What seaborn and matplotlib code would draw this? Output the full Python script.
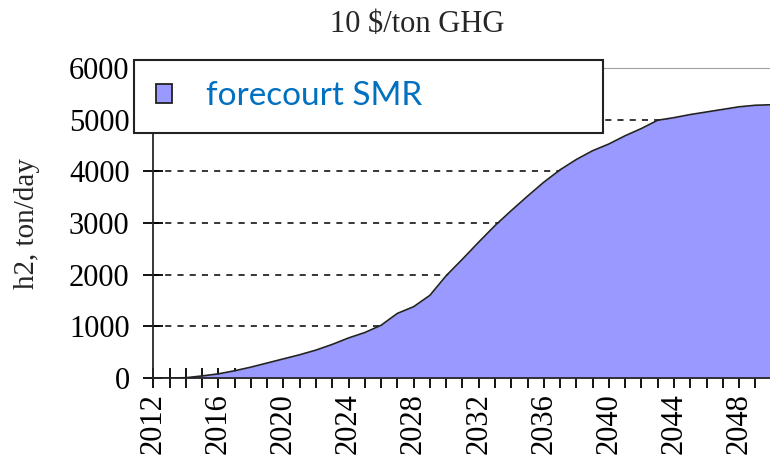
import numpy as np
import pandas as pd
import matplotlib
matplotlib.use("Agg")
import matplotlib.pyplot as plt
import seaborn as sns
from matplotlib.ticker import MultipleLocator
from matplotlib.patches import Patch

# -------------------------------
# DATA
# -------------------------------
years = list(range(2012, 2051))
h2_tons = [0, 0, 5, 40, 80, 140, 210, 290, 370, 450,
           540, 650, 775, 880, 1020, 1250, 1380, 1600, 1980, 2300,
           2630, 2950, 3240, 3520, 3790, 4030, 4230, 4400, 4530, 4690,
           4830, 4990, 5040, 5100, 5150, 5200, 5250, 5280, 5290]
series_name = "forecourt SMR"
title_text = "10 $/ton GHG"
ylabel_text = "h2, ton/day"

df = pd.DataFrame({"year": years, "h2": h2_tons})

# -------------------------------
# STYLE
# -------------------------------
sns.set_style("ticks")
plt.rcParams["font.family"] = ["Liberation Serif", "DejaVu Serif"]

fig = plt.figure(figsize=(7.7, 4.63), dpi=100)
ax = fig.add_axes([0.199, 0.1836, 0.801, 0.6694])

fill_color = "#9999FF"
ax.fill_between(df["year"], df["h2"], 0, color=fill_color, zorder=2, lw=0)
sns.lineplot(data=df, x="year", y="h2", color="#222222", lw=1.2, ax=ax, zorder=3)

ax.set_xlim(2012, 2049.9)
ax.set_ylim(0, 6000)
ax.xaxis.set_major_locator(MultipleLocator(4))
ax.xaxis.set_minor_locator(MultipleLocator(1))
ax.yaxis.set_major_locator(MultipleLocator(1000))

ax.yaxis.grid(True, color="black", ls=(0, (4, 4)), lw=1.1, zorder=1)
ax.set_axisbelow(True)

ax.tick_params(axis="both", which="both", direction="inout", length=14, width=1.3,
               labelsize=22, colors="black")
ax.tick_params(axis="x", labelrotation=90, pad=4)
ax.tick_params(axis="y", pad=10)

ax.spines["right"].set_visible(False)
ax.spines["top"].set_color("#a0a0a0")
ax.spines["left"].set_linewidth(1.3)
ax.spines["bottom"].set_linewidth(1.3)

ax.set_xlabel("")
ax.set_ylabel(ylabel_text, fontsize=21)
ax.yaxis.set_label_coords(-0.184, 0.5)
ax.set_title(title_text, fontsize=22, x=0.428, pad=26)

handle = Patch(facecolor=fill_color, edgecolor="#222222", linewidth=1.3)
leg = ax.legend([handle], [series_name], loc="lower left",
                bbox_to_anchor=(-0.031, 0.79, 0.76, 0.245), mode="expand",
                borderaxespad=0, frameon=True, fancybox=False, framealpha=1,
                prop={"family": "Lato", "size": 24},
                handlelength=0.5, handleheight=0.5, handletextpad=1.0,
                borderpad=0.65)
for txt in leg.get_texts():
    txt.set_color("#0070C0")
leg.get_frame().set_edgecolor("#222222")
leg.get_frame().set_facecolor("white")
leg.get_frame().set_linewidth(1.5)
leg.set_zorder(10)

plt.savefig("out.png", dpi=100)
